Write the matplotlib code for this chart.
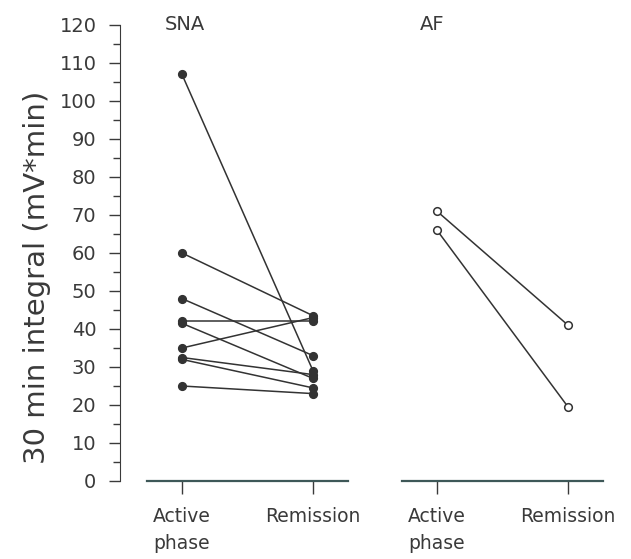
"""
Paired plot of 30 min integral, active phase vs remission, for SNA and AF.
"""
import matplotlib
matplotlib.use("Agg")
import matplotlib.pyplot as plt
from matplotlib.ticker import MultipleLocator

# data
categories = ["Active\nphase", "Remission"]
sna_active = [107, 60, 48, 42, 41.5, 35, 32.5, 32, 25]
sna_remission = [29, 43.5, 33, 42, 27, 43, 28, 24.5, 23]
af_active = [71, 66]
af_remission = [41, 19.5]

ink = "#333333"
text_col = "#3a3a3a"
axis_col = "#3e5858"

fig = plt.figure(figsize=(6.31, 5.59), dpi=100)
W, H = 631, 559

def frac(x0, x1):
    return x0 / W, (x1 - x0) / W

bottom = (H - 481) / H
height = (481 - 25) / H

# y axis on its own axes
l, w = frac(120, 121)
ax0 = fig.add_axes([l, bottom, w, height])
ax0.set_ylim(0, 120)
ax0.set_xticks([])
for s in ["top", "right", "bottom"]:
    ax0.spines[s].set_visible(False)
ax0.spines["left"].set_color(text_col)
ax0.yaxis.set_major_locator(MultipleLocator(10))
ax0.yaxis.set_minor_locator(MultipleLocator(5))
ax0.tick_params(axis="y", which="major", direction="out", length=8, width=1,
                colors=text_col, labelsize=14, pad=9)
ax0.tick_params(axis="y", which="minor", direction="out", length=5, width=1, colors=text_col)
ax0.patch.set_visible(False)
fig.text(37 / W, 1 - 277 / H, "30 min integral (mV*min)", rotation=90,
         ha="center", va="center", fontsize=21, color=text_col)

def panel(x0, x1, active, remission, title, filled):
    l, w = frac(x0, x1)
    ax = fig.add_axes([l, bottom, w, height])
    ax.set_ylim(0, 120)
    ax.set_xlim(-0.267, 1.267)
    ax.patch.set_visible(False)
    for s in ["top", "right", "left"]:
        ax.spines[s].set_visible(False)
    ax.spines["bottom"].set_color(axis_col)
    ax.spines["bottom"].set_linewidth(1.6)
    ax.set_yticks([])
    ax.set_xticks([0, 1])
    ax.set_xticklabels(categories, linespacing=1.5)
    ax.tick_params(axis="x", direction="out", length=9, width=1,
                   colors=text_col, labelsize=13.5, pad=10)
    for a, r in zip(active, remission):
        ax.plot([0, 1], [a, r], color=ink, lw=1.1, marker="o", ms=5.5,
                mfc=ink if filled else "white", mec=ink, mew=1.1, clip_on=False)
    ax.text(-0.13, 120, title, ha="left", va="center", fontsize=14, color=text_col)
    return ax

panel(147, 348, sna_active, sna_remission, "SNA", True)
panel(402, 603, af_active, af_remission, "AF", False)

fig.savefig("out.png", dpi=100, facecolor="white")
